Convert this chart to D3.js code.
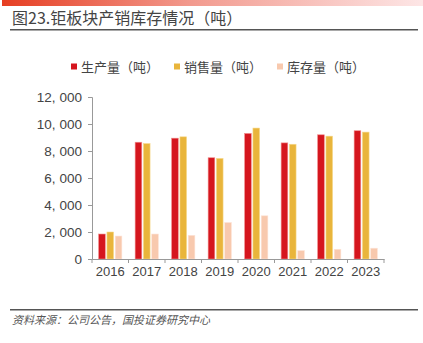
<!DOCTYPE html>
<html><head><meta charset="utf-8">
<script src="https://cdn.jsdelivr.net/npm/d3@7"></script>
<style>body{margin:0;background:#fff;}svg{display:block;}</style>
</head><body>
<svg id="c" width="423" height="343"></svg>
<script>
const categories = ["2016","2017","2018","2019","2020","2021","2022","2023"];
const seriesNames = ["生产量（吨）","销售量（吨）","库存量（吨）"];
const production = [1850, 8650, 8950, 7500, 9300, 8600, 9200, 9500];
const sales = [2000, 8550, 9050, 7450, 9700, 8500, 9100, 9400];
const inventory = [1700, 1850, 1750, 2700, 3200, 620, 720, 800];
const yTicks = [0, 2000, 4000, 6000, 8000, 10000, 12000];
const colors = ["#d5161e", "#e9b53b", "#f8c9ae"];
const strokes = ["#f08a8a", "#f6d98e", "#fde3d6"];

const svg = d3.select("#c");
const defs = svg.append("defs");
const g0 = defs.append("linearGradient").attr("id","tg");
g0.append("stop").attr("offset","0%").attr("stop-color","#e63e22");
g0.append("stop").attr("offset","45%").attr("stop-color","#f29a8e");
g0.append("stop").attr("offset","100%").attr("stop-color","#fde6e6");
svg.append("rect").attr("x",2).attr("y",0).attr("width",421).attr("height",6).attr("fill","url(#tg)");

svg.append("text").attr("x",12).attr("y",24).attr("font-family","Noto Sans CJK SC").attr("font-size",16)
  .attr("font-weight","normal").attr("fill","#444").text("图23.钜板块产销库存情况（吨）");
svg.append("rect").attr("x",10).attr("y",29).attr("width",408).attr("height",1.5).attr("fill","#555");

const m = {left:92, right:384, top:97, bottom:259};
const x = d3.scaleBand().domain(categories).range([m.left, m.right]).paddingInner(0).paddingOuter(0);
const x1 = d3.scaleBand().domain([0,1,2]).range([0, x.bandwidth()]).paddingInner(0.2).paddingOuter(0.8);
const y = d3.scaleLinear().domain([0,12000]).range([m.bottom, m.top]);

const data = [production, sales, inventory];
categories.forEach((c,i)=>{
  data.forEach((s,k)=>{
    svg.append("rect").attr("x", x(c)+x1(k)).attr("y", y(s[i]))
      .attr("width", x1.bandwidth()).attr("height", y(0)-y(s[i]))
      .attr("fill", colors[k]).attr("stroke", strokes[k]).attr("stroke-width",0.6);
  });
});

const fmt = d3.format(",");
const yAx = svg.append("g").attr("transform",`translate(${m.left},0)`)
  .call(d3.axisLeft(y).tickValues(yTicks).tickSize(4).tickPadding(6).tickFormat(fmt));
yAx.select(".domain").attr("stroke","#999");
yAx.selectAll(".tick line").attr("stroke","#999");
yAx.selectAll("text").attr("font-family","Liberation Sans, Arial").attr("font-size",13.5).attr("fill","#444")
  .each(function(d){
    const s = fmt(d);
    const t = d3.select(this);
    if (s.includes(",")) {
      const parts = s.split(",");
      t.text(null);
      t.append("tspan").text(parts[0] + ",");
      t.append("tspan").attr("dx", 4).text(parts[1]);
    }
  });

const xAx = svg.append("g").attr("transform",`translate(0,${m.bottom})`)
  .call(d3.axisBottom(x).tickSize(0).tickPadding(8));
xAx.select(".domain").attr("stroke","#999");
xAx.selectAll("text").attr("font-family","Liberation Sans, Arial").attr("font-size",13).attr("fill","#444");
const bounds = categories.map(c=>x(c)).concat([m.right]);
svg.append("g").selectAll("line").data(bounds).join("line")
  .attr("x1",d=>d).attr("x2",d=>d).attr("y1",m.bottom).attr("y2",m.bottom+4).attr("stroke","#999");

const lx = [71, 174, 277];
seriesNames.forEach((n,k)=>{
  svg.append("rect").attr("x",lx[k]).attr("y",63.5).attr("width",6).attr("height",6).attr("fill",colors[k]);
  svg.append("text").attr("x",lx[k]+10).attr("y",71.5).attr("font-family","Noto Sans CJK SC")
    .attr("font-size",13).attr("fill","#444").text(n);
});

svg.append("rect").attr("x",10).attr("y",309).attr("width",408).attr("height",1.5).attr("fill","#555");
svg.append("text").attr("x",12).attr("y",324).attr("font-family","Noto Sans CJK SC").attr("font-size",11)
  .attr("font-style","italic").attr("fill","#555").text("资料来源：公司公告，国投证券研究中心");
</script>
</body></html>
